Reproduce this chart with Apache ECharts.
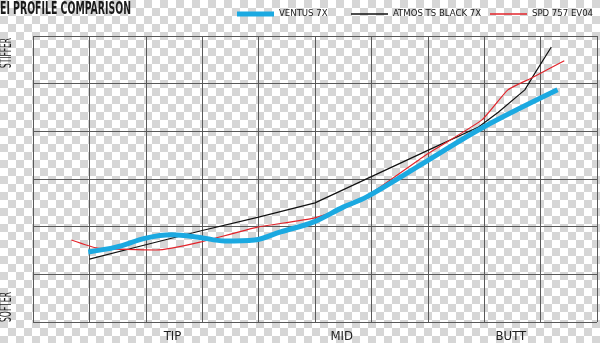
<!DOCTYPE html>
<html><head><meta charset="utf-8">
<script src="https://cdn.jsdelivr.net/npm/echarts@6/dist/echarts.min.js"></script>
<style>
html,body{margin:0;padding:0;}
body{width:600px;height:343px;background:repeating-conic-gradient(#ffffff 0 25%,#d6d6d6 0 50%) 0 0/16px 16px;}
#c{width:600px;height:343px;}
</style></head><body><div id="c"></div>
<script>
const titleText = 'EI PROFILE COMPARISON';
const seriesNames = ['VENTUS 7X', 'ATMOS TS BLACK 7X', 'SPD 757 EV04'];
const xLabels = {2.5: 'TIP', 5.5: 'MID', 8.5: 'BUTT'};
const yLabelTop = 'STIFFER';
const yLabelBottom = 'SOFTER';
const ventus = [[0.98,1.47],[1.47,1.57],[2.0,1.76],[2.46,1.83],[2.93,1.78],[3.4,1.7],[3.93,1.72],[4.39,1.89],[4.98,2.1],[5.5,2.41],[5.91,2.62],[6.96,3.36],[7.96,4.07],[9.3,4.87]];
const atmos = [[1,1.32],[2,1.62],[3,1.92],[4,2.2],[5,2.5],[6,3.05],[7,3.6],[7.9,4.09],[8.25,4.4],[8.72,4.87],[8.9,5.22],[9.19,5.77]];
const spd = [[0.68,1.72],[1.14,1.55],[2.18,1.51],[2.46,1.55],[2.98,1.68],[3.98,1.99],[4.98,2.18],[5.74,2.5],[6.96,3.5],[7.96,4.24],[8.42,4.87],[8.84,5.12],[9.42,5.48]];

const colors = ['#1ba9e1', '#111111', '#e3242b'];
const FONT = '"DejaVu Sans Condensed","Roboto",sans-serif';
function measure(text, font){
  const c = document.createElement('canvas').getContext('2d');
  c.font = font; return c.measureText(text).width;
}
const titleFont = 'bold 17px ' + FONT;
const titleScale = 131 / measure(titleText, titleFont);
const sideFont = '15px ' + FONT;
const stiffScale = 30 / measure(yLabelTop, sideFont);
const softScale = 30 / measure(yLabelBottom, sideFont);

const legendPos = [{left: 232}, {left: 346}, {right: 2}];
const legendIcons = ['path://M0,0H37V5H0Z', 'path://M0,0H37V1.3H0Z', 'path://M0,0H37V1.3H0Z'];
const legends = seriesNames.map((n, i) => Object.assign({
  top: 4, itemWidth: 37, itemHeight: 10, itemGap: 0,
  textStyle: {fontFamily: FONT, fontSize: 9.5, color: '#222'},
  data: [{name: n, icon: legendIcons[i], itemStyle: {color: colors[i]}}]
}, legendPos[i]));

const chart = echarts.init(document.getElementById('c'), null, {renderer:'canvas'});
const gridColor = '#5a5a5a';
chart.setOption({
  backgroundColor: 'transparent',
  animation: false,
  grid: {left: 33, right: 0, top: 36, bottom: 21, containLabel: false},
  legend: legends,
  graphic: [
    {type:'text', x: 0, y: 1, scaleX: titleScale, style:{text: titleText, font: titleFont, fill:'#1a1a1a', textVerticalAlign:'top'}},
    {type:'text', x: 0, y: 68, rotation: Math.PI/2, scaleX: stiffScale, style:{text: yLabelTop, font: sideFont, fill:'#222', textAlign:'left', textVerticalAlign:'top'}},
    {type:'text', x: 0, y: 322, rotation: Math.PI/2, scaleX: softScale, style:{text: yLabelBottom, font: sideFont, fill:'#222', textAlign:'left', textVerticalAlign:'top'}}
  ],
  xAxis: [
    {type:'value', min:0, max:10, interval:1, axisLine:{show:false}, axisTick:{show:false}, axisLabel:{show:false},
     splitLine:{show:true, lineStyle:{color: gridColor, width:1}}},
    {type:'value', min:0, max:10, interval:0.5, position:'bottom', axisLine:{show:false}, axisTick:{show:false}, splitLine:{show:false},
     axisLabel:{show:true, margin: 8, padding:[0,3,0,0], fontFamily: FONT, fontSize: 13, color:'#222',
       formatter: v => xLabels[v] || ''}}
  ],
  yAxis: {type:'value', min:0, max:6, interval:1, axisLine:{show:false}, axisTick:{show:false}, axisLabel:{show:false},
    splitLine:{show:true, lineStyle:{color: gridColor, width:1}}},
  series: [
    {name: seriesNames[0], type:'line', data: ventus, smooth: 0.35, symbol:'none', lineStyle:{color: colors[0], width:5}, itemStyle:{color: colors[0]}, z:3},
    {name: seriesNames[1], type:'line', data: atmos, symbol:'none', lineStyle:{color: colors[1], width:1.2}, itemStyle:{color: colors[1]}, z:2},
    {name: seriesNames[2], type:'line', data: spd, symbol:'none', smooth:0.15, lineStyle:{color: colors[2], width:1.2}, itemStyle:{color: colors[2]}, z:2}
  ]
});
</script></body></html>
